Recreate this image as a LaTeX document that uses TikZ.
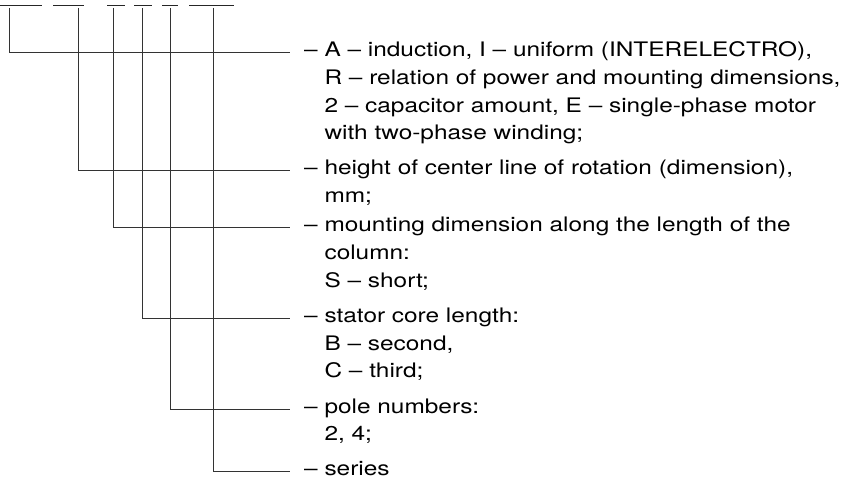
\documentclass[tikz,border=0pt]{standalone}
\usepackage{fontspec}
\setmainfont[FakeStretch=1.22]{TeX Gyre Heros}
% a block of lines whose baseline is that of its first line
\newcommand{\legendlines}[1]{\begin{tabular}[t]{@{}l@{}}#1\end{tabular}}
\begin{document}
\begin{tikzpicture}[x=1pt,y=-1pt,
  lead/.style={line width=1pt,draw=black!80},
  bar/.style={line width=1.1pt,draw=black!85},
  legend/.style={anchor=base west,inner sep=0pt,
    font=\fontsize{20}{27.6}\selectfont,text=black}]
\useasboundingbox (0,0) rectangle (848,478);

% code positions: short bars along the top
\foreach \a/\b [count=\i] in {0/42,53/84,107/125,134/152,162/178,189/234}{
  \coordinate (bl\i) at (\a,5.3);
  \coordinate (br\i) at (\b,5.3);
  \draw[bar] (bl\i) -- (br\i);
}

% tap points below the bars
\foreach \x [count=\i] in {9,78,113,142,170,213}
  \coordinate (tap\i) at (\x,8);

% explanation blocks
\def\ind{\phantom{– }}
\node[legend] (d1) at (304,57) {\legendlines{– A – induction, I – uniform (INTERELECTRO),\\
  \ind R – relation of power and mounting dimensions,\\
  \ind 2 – capacitor amount, E – single-phase motor\\
  \ind with two-phase winding;}};
\node[legend] (d2) at (304,174.7) {\legendlines{– height of center line of rotation (dimension),\\
  \ind mm;}};
\node[legend] (d3) at (304,232) {\legendlines{– mounting dimension along the length of the\\
  \ind column:\\
  \ind S – short;}};
\node[legend] (d4) at (304,322.7) {\legendlines{– stator core length:\\
  \ind B – second,\\
  \ind C – third;}};
\node[legend] (d5) at (304,413) {\legendlines{– pole numbers:\\
  \ind 2, 4;}};
\node[legend] (d6) at (304,475.5) {– series};

% leader ends, just left of each block's first line
\foreach \i/\y in {1/53,2/170.7,3/228,4/318.7,5/409,6/471.5}
  \coordinate (end\i) at (290,\y);

% leaders
\foreach \i in {1,...,6}
  \draw[lead] (tap\i) |- (end\i);
\end{tikzpicture}
\end{document}
